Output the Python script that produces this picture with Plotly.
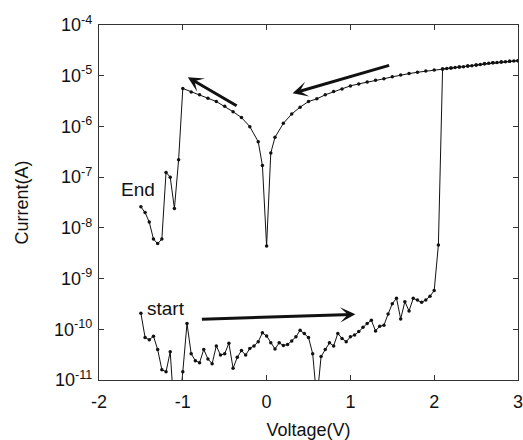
import plotly.graph_objects as go
import numpy as np

# ---- forward sweep ("start"): -1.5 V -> 3 V ----
V_fwd = [-1.5, -1.45, -1.4, -1.35, -1.3, -1.25, -1.2, -1.15, -1.1, -1.05,
         -1.0, -0.95, -0.9, -0.85, -0.8, -0.75, -0.7, -0.65, -0.6, -0.55,
         -0.5, -0.45, -0.4, -0.35, -0.3, -0.25, -0.2, -0.15, -0.1, -0.05,
         0.0, 0.05, 0.1, 0.15, 0.2, 0.25, 0.3, 0.35, 0.4, 0.45,
         0.5, 0.55, 0.6, 0.65, 0.7, 0.75, 0.8, 0.85, 0.9, 0.95,
         1.0, 1.05, 1.1, 1.15, 1.2, 1.25, 1.3, 1.35, 1.4, 1.45,
         1.5, 1.55, 1.6, 1.65, 1.7, 1.75, 1.8, 1.85, 1.9, 1.95,
         2.0, 2.05, 2.1, 2.15, 2.2, 2.25, 2.3, 2.35, 2.4, 2.45,
         2.5, 2.55, 2.6, 2.65, 2.7, 2.75, 2.8, 2.85, 2.9, 2.95, 3.0]
I_fwd = [2.06e-10, 6.9e-11, 6.2e-11, 7.3e-11, 4.0e-11, 1.6e-11, 1.45e-11, 3.6e-11, 2e-12, 2e-12,
         1.45e-11, 1.3e-10, 3.3e-11, 2.4e-11, 2.2e-11, 4.0e-11, 2.6e-11, 2.1e-11, 4.7e-11, 3.1e-11,
         3.3e-11, 5.3e-11, 1.7e-11, 2.8e-11, 3.8e-11, 3.1e-11, 4.2e-11, 4.7e-11, 5.7e-11, 8.5e-11,
         7.4e-11, 5.4e-11, 4.1e-11, 5.4e-11, 4.8e-11, 5.0e-11, 5.9e-11, 7.1e-11, 9.6e-11, 8.3e-11,
         6.9e-11, 3.3e-11, 4e-12, 2.9e-11, 4.0e-11, 5.4e-11, 4.7e-11, 8.3e-11, 6.6e-11, 5.7e-11,
         7.1e-11, 7.7e-11, 9.0e-11, 1.1e-10, 1.3e-10, 1.5e-10, 9.3e-11, 1.15e-10, 1.2e-10, 2.0e-10,
         3.2e-10, 4.1e-10, 1.6e-10, 3.5e-10, 2.3e-10, 4.1e-10, 3.8e-10, 3.4e-10, 3.8e-10, 4.5e-10,
         5.8e-10, 4.6e-9, 1.36e-5, 1.39e-5, 1.42e-5, 1.45e-5, 1.48e-5, 1.51e-5, 1.55e-5, 1.58e-5,
         1.62e-5, 1.67e-5, 1.72e-5, 1.76e-5, 1.8e-5, 1.83e-5, 1.86e-5, 1.89e-5, 1.92e-5, 1.95e-5, 1.98e-5]

# ---- reverse sweep ("End"): 3 V -> -1.5 V ----
V_rev = [3.0, 2.9, 2.8, 2.7, 2.6, 2.5, 2.4, 2.3, 2.2, 2.1,
         2.0, 1.9, 1.8, 1.7, 1.6, 1.5, 1.4, 1.3, 1.2, 1.1,
         1.0, 0.9, 0.8, 0.7, 0.6, 0.5, 0.4, 0.3, 0.2, 0.1,
         0.05, 0.0, -0.05, -0.1, -0.2, -0.3, -0.4, -0.5, -0.6, -0.7,
         -0.8, -0.9, -1.0, -1.05, -1.1, -1.15, -1.2, -1.25, -1.3, -1.35,
         -1.4, -1.45, -1.5]
I_rev = [1.98e-5, 1.92e-5, 1.86e-5, 1.8e-5, 1.72e-5, 1.62e-5, 1.55e-5, 1.48e-5, 1.42e-5, 1.36e-5,
         1.3e-5, 1.24e-5, 1.17e-5, 1.1e-5, 1.03e-5, 9.5e-6, 8.7e-6, 8.1e-6, 7.5e-6, 6.9e-6,
         6.3e-6, 5.5e-6, 4.9e-6, 4.2e-6, 3.5e-6, 3.1e-6, 2.4e-6, 1.76e-6, 1.15e-6, 6.1e-7,
         3.0e-7, 4.4e-9, 1.7e-7, 5.0e-7, 9.9e-7, 1.5e-6, 1.95e-6, 2.5e-6, 3.1e-6, 3.6e-6,
         4.2e-6, 4.8e-6, 5.6e-6, 2.2e-7, 2.4e-8, 1.0e-7, 1.24e-7, 6e-9, 4.9e-9, 6e-9,
         1.3e-8, 2.0e-8, 2.6e-8]

x_ticks = [-2, -1, 0, 1, 2, 3]
y_exps = [-11, -10, -9, -8, -7, -6, -5, -4]
y_ticktext = ["10<sup>%d</sup>" % e for e in y_exps]

# arrows: (tail V, tail I, tip V, tip I)
arrows = [
    (1.48, 1.63e-5, 0.31, 4.5e-6),
    (-0.34, 2.45e-6, -0.94, 9.3e-6),
    (-0.79, 1.57e-10, 1.06, 1.97e-10),
]
labels = [("End", -1.54, 5.8e-8), ("start", -1.2, 2.6e-10)]

FONT = "Liberation Sans, Arial, sans-serif"

fig = go.Figure()
for V, I in [(V_fwd, I_fwd), (V_rev, I_rev)]:
    fig.add_trace(go.Scatter(
        x=V, y=I, mode="lines+markers",
        line=dict(color="#111111", width=1),
        marker=dict(color="#111111", size=3.5),
        showlegend=False))

for tx, ty, hx, hy in arrows:
    fig.add_annotation(x=hx, y=np.log10(hy), ax=tx, ay=np.log10(ty),
                       xref="x", yref="y", axref="x", ayref="y",
                       text="", showarrow=True, arrowhead=3, arrowsize=0.85,
                       arrowwidth=3, arrowcolor="#111111", standoff=0)

for txt, lx, ly in labels:
    fig.add_annotation(x=lx, y=np.log10(ly), xref="x", yref="y", text=txt,
                       showarrow=False, font=dict(family=FONT, size=19, color="#111111"))

axis_common = dict(showline=True, linecolor="#333333", linewidth=1.2, mirror="ticks",
                   ticks="inside", ticklen=5, tickcolor="#333333", showgrid=False,
                   zeroline=False, ticklabeloverflow="allow", automargin=False,
                   tickfont=dict(family=FONT, size=18, color="#111111"))

fig.update_xaxes(range=[-2, 3], tickvals=x_ticks, ticktext=[str(t) for t in x_ticks],
                 ticklabelstandoff=5,
                 title=dict(text="Voltage(V)", font=dict(family=FONT, size=18, color="#111111"),
                            standoff=12),
                 **axis_common)
fig.update_yaxes(type="log", range=[-11, -4], tickvals=[10.0 ** e for e in y_exps],
                 ticktext=y_ticktext, ticklabelstandoff=2,
                 title=dict(text="Current(A)", font=dict(family=FONT, size=18, color="#111111"),
                            standoff=20),
                 **axis_common)

fig.update_layout(width=523, height=440, margin=dict(l=99, r=5, t=25, b=60),
                  paper_bgcolor="white", plot_bgcolor="white")

fig.write_html("out.html")
